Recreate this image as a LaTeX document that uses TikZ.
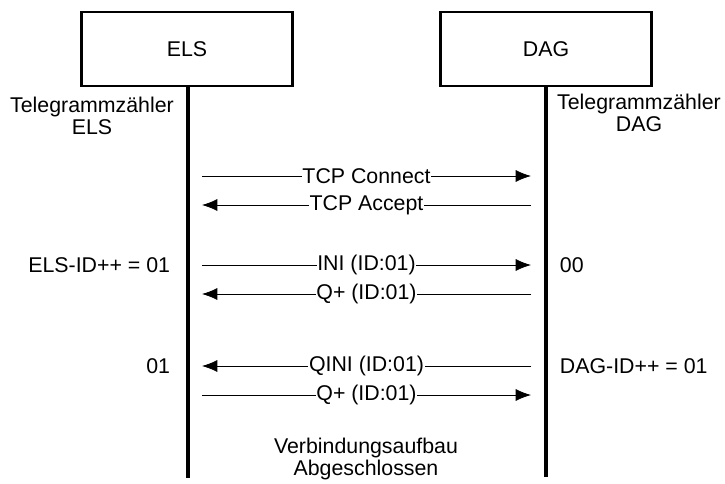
\documentclass[tikz,border=0pt]{standalone}
\usepackage{fontspec}
\setmainfont{Liberation Sans}
\usetikzlibrary{arrows.meta,positioning}

\begin{document}
\begin{tikzpicture}[x=0.75pt, y=-0.75pt, line width=0.75pt,
	box/.style={draw, line width=1.8pt, minimum width=158pt, minimum height=55.5pt},
	lifeline/.style={line width=2.5pt},
	msg/.style={line width=0.6pt, -{Latex[length=11.5pt,width=9pt]}},
	msglabel/.style={midway, fill=white, inner sep=0.5pt},
	counter/.style={align=center}]
		\tikzstyle{every node}=[font=\fontsize{16}{16.5}\selectfont]
		\useasboundingbox (0,0) rectangle (725,483);
		% Teilnehmer
		\node[box] (els) at (187,49) {ELS};
		\node[box] (dag) at (546,49) {DAG};
		\coordinate (elsend) at (188,478);
		\coordinate (dagend) at (546,477);
		\draw[lifeline] (els.south -| elsend) -- (elsend);
		\draw[lifeline] (dag.south -| dagend) -- (dagend);
		\node[counter] (elscnt) at (92,116) {Telegrammzähler\\ELS};
		\node[counter] (dagcnt) at (639,113) {Telegrammzähler\\DAG};
		
		% Nachrichten
		\coordinate (connl) at (202,176);   \coordinate (connr) at (531,176);
		\coordinate (accl) at (202,205);    \coordinate (accr) at (531,205);
		\coordinate (inil) at (202,265);    \coordinate (inir) at (531,265);
		\coordinate (qal) at (202,294);     \coordinate (qar) at (531,294);
		\coordinate (qinil) at (202,366);   \coordinate (qinir) at (531,366);
		\coordinate (qbl) at (202,395);     \coordinate (qbr) at (531,395);
		\draw[msg] (connl) -- (connr) node[msglabel] (conn) {TCP Connect};
		\draw[msg] (accr) -- (accl) node[msglabel] (acc) {TCP Accept};
		\draw[msg] (inil) -- (inir) node[msglabel] (ini) {INI (ID:01)};
		\draw[msg] (qar) -- (qal) node[msglabel] (qa) {Q+ (ID:01)};
		\draw[msg] (qinir) -- (qinil) node[msglabel] (qini) {QINI (ID:01)};
		\draw[msg] (qbl) -- (qbr) node[msglabel] (qb) {Q+ (ID:01)};
		
		% Zaehlerstaende
		\node[anchor=east] (elsid) at (175,265) {ELS-ID++ = 01};
		\node[anchor=east] (elsval) at (175,366) {01};
		\node[anchor=west] (dagval) at (555,265) {00};
		\node[anchor=west] (dagid) at (555,366) {DAG-ID++ = 01};
		\node[counter] (done) at (366,459) {Verbindungsaufbau\\Abgeschlossen};
	\end{tikzpicture}
\end{document}
